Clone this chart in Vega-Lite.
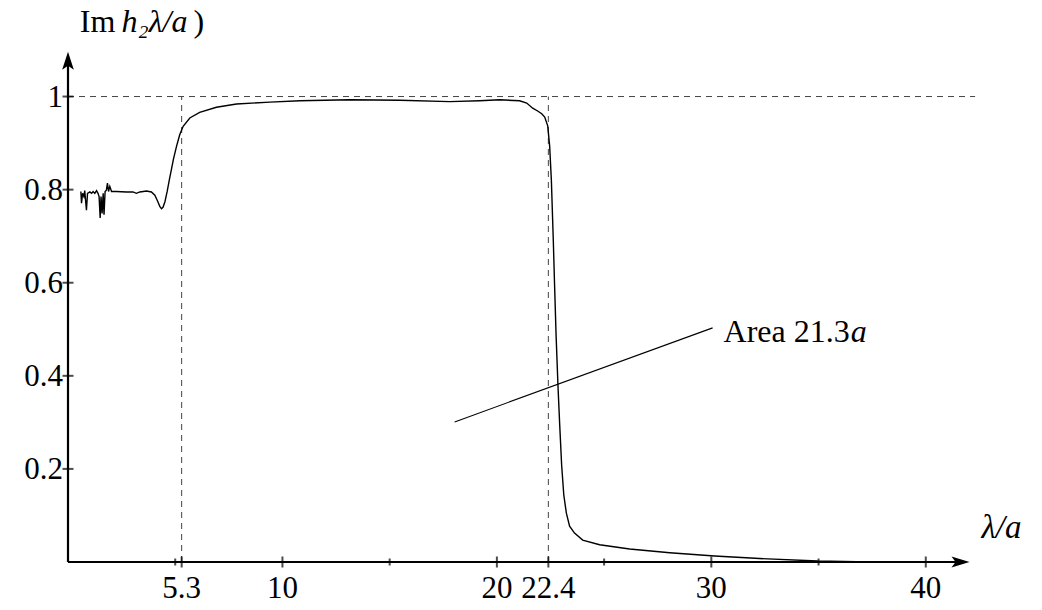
{
  "$schema": "https://vega.github.io/schema/vega-lite/v6.json",
  "width": 965,
  "height": 512,
  "autosize": {"type": "none"},
  "padding": {"left": 68, "top": 50, "right": 9, "bottom": 48},
  "background": "white",
  "config": {"view": {"stroke": null}},
  "datasets": {
    "curve": [
      {"x": 0.60, "y": 0.796}, {"x": 0.63, "y": 0.771}, {"x": 0.68, "y": 0.792}, {"x": 0.74, "y": 0.785},
      {"x": 0.78, "y": 0.798}, {"x": 0.86, "y": 0.756}, {"x": 0.91, "y": 0.792}, {"x": 1.02, "y": 0.795},
      {"x": 1.10, "y": 0.792}, {"x": 1.17, "y": 0.796}, {"x": 1.25, "y": 0.792}, {"x": 1.33, "y": 0.798},
      {"x": 1.40, "y": 0.792}, {"x": 1.45, "y": 0.785}, {"x": 1.50, "y": 0.739}, {"x": 1.54, "y": 0.785},
      {"x": 1.59, "y": 0.749}, {"x": 1.64, "y": 0.792}, {"x": 1.68, "y": 0.746}, {"x": 1.73, "y": 0.796},
      {"x": 1.79, "y": 0.799}, {"x": 1.84, "y": 0.814}, {"x": 1.89, "y": 0.796}, {"x": 1.95, "y": 0.807},
      {"x": 2.03, "y": 0.796}, {"x": 2.10, "y": 0.796}, {"x": 2.26, "y": 0.796}, {"x": 2.73, "y": 0.795},
      {"x": 3.03, "y": 0.795}, {"x": 3.19, "y": 0.792}, {"x": 3.35, "y": 0.795}, {"x": 3.66, "y": 0.797},
      {"x": 3.89, "y": 0.795}, {"x": 4.05, "y": 0.788}, {"x": 4.17, "y": 0.776}, {"x": 4.28, "y": 0.764},
      {"x": 4.36, "y": 0.759}, {"x": 4.43, "y": 0.762}, {"x": 4.52, "y": 0.774}, {"x": 4.62, "y": 0.795},
      {"x": 4.73, "y": 0.822}, {"x": 4.83, "y": 0.845}, {"x": 4.92, "y": 0.866},
      {"x": 5.06, "y": 0.893}, {"x": 5.21, "y": 0.918}, {"x": 5.37, "y": 0.936}, {"x": 5.68, "y": 0.954},
      {"x": 6.14, "y": 0.966}, {"x": 6.92, "y": 0.977}, {"x": 7.86, "y": 0.984}, {"x": 9.41, "y": 0.988},
      {"x": 10.81, "y": 0.991}, {"x": 13.14, "y": 0.993}, {"x": 15.47, "y": 0.992}, {"x": 17.8, "y": 0.989},
      {"x": 19.2, "y": 0.991}, {"x": 20.13, "y": 0.993}, {"x": 21.06, "y": 0.991}, {"x": 21.39, "y": 0.986},
      {"x": 21.67, "y": 0.975}, {"x": 21.9, "y": 0.969}, {"x": 22.09, "y": 0.963}, {"x": 22.23, "y": 0.956},
      {"x": 22.37, "y": 0.937}, {"x": 22.46, "y": 0.894}, {"x": 22.54, "y": 0.821}, {"x": 22.63, "y": 0.692},
      {"x": 22.69, "y": 0.595}, {"x": 22.76, "y": 0.488}, {"x": 22.85, "y": 0.377}, {"x": 22.93, "y": 0.294},
      {"x": 23.02, "y": 0.208}, {"x": 23.12, "y": 0.144}, {"x": 23.24, "y": 0.105}, {"x": 23.39, "y": 0.077},
      {"x": 23.62, "y": 0.062}, {"x": 24.0, "y": 0.047}, {"x": 24.79, "y": 0.037}, {"x": 26.19, "y": 0.028},
      {"x": 28.06, "y": 0.020}, {"x": 30.15, "y": 0.013}, {"x": 32.25, "y": 0.0075}, {"x": 34.96, "y": 0.002},
      {"x": 37.38, "y": 0.0}, {"x": 40.0, "y": 0.0}
    ],
    "dashed": [
      {"x": 0, "y": 1, "x2": 42.3, "y2": 1},
      {"x": 5.3, "y": 0, "x2": 5.3, "y2": 1},
      {"x": 22.4, "y": 0, "x2": 22.4, "y2": 1}
    ],
    "axes": [
      {"x": 0, "y": 0, "x2": 41.6, "y2": 0},
      {"x": 0, "y": 0, "x2": 0, "y2": 1.077}
    ],
    "pointer": [
      {"x": 18.03, "y": 0.301, "x2": 30.06, "y2": 0.503}
    ],
    "xMajor": [
      {"x": 5.3, "y": 0, "label": "5.3"}, {"x": 10, "y": 0, "label": "10"}, {"x": 20, "y": 0, "label": "20"},
      {"x": 22.4, "y": 0, "label": "22.4"}, {"x": 30, "y": 0, "label": "30"}, {"x": 40, "y": 0, "label": "40"}
    ],
    "xMinor": [
      {"x": 5, "y": 0}, {"x": 15, "y": 0}, {"x": 25, "y": 0}, {"x": 35, "y": 0}
    ],
    "yMajor": [
      {"x": 0, "y": 0.2, "label": "0.2"}, {"x": 0, "y": 0.4, "label": "0.4"}, {"x": 0, "y": 0.6, "label": "0.6"},
      {"x": 0, "y": 0.8, "label": "0.8"}, {"x": 0, "y": 1, "label": "1"}
    ],
    "xArrow": [{"x": 41.62, "y": 0}],
    "yArrow": [{"x": 0, "y": 1.077}],
    "titleUpright": [{"x": 0.55, "y": 1.139, "label": "Im"}],
    "titleItalic": [{"x": 2.5, "y": 1.139, "label": "h₂λ/a"}],
    "titleParen": [{"x": 5.85, "y": 1.139, "label": ")"}],
    "xTitle": [{"x": 42.6, "y": 0.052, "label": "λ/a"}],
    "areaText": [{"x": 36.5, "y": 0.473, "label": "Area 21.3"}],
    "areaItalic": [{"x": 36.5, "y": 0.473, "label": "a"}]
  },
  "layer": [
    {
      "data": {"name": "dashed"},
      "mark": {"type": "rule", "strokeDash": [6, 5], "strokeWidth": 1, "color": "#444444"},
      "encoding": {
        "x": {"field": "x", "type": "quantitative", "scale": {"domain": [0, 45]}, "axis": null},
        "y": {"field": "y", "type": "quantitative", "scale": {"domain": [0, 1.1]}, "axis": null},
        "x2": {"field": "x2"},
        "y2": {"field": "y2"}
      }
    },
    {
      "data": {"name": "curve"},
      "mark": {"type": "line", "color": "black", "strokeWidth": 1.4, "clip": false},
      "encoding": {
        "x": {"field": "x", "type": "quantitative", "scale": {"domain": [0, 45]}, "axis": null},
        "y": {"field": "y", "type": "quantitative", "scale": {"domain": [0, 1.1]}, "axis": null}
      }
    },
    {
      "data": {"name": "pointer"},
      "mark": {"type": "rule", "color": "black", "strokeWidth": 1.1},
      "encoding": {
        "x": {"field": "x", "type": "quantitative", "scale": {"domain": [0, 45]}, "axis": null},
        "y": {"field": "y", "type": "quantitative", "scale": {"domain": [0, 1.1]}, "axis": null},
        "x2": {"field": "x2"},
        "y2": {"field": "y2"}
      }
    },
    {
      "data": {"name": "axes"},
      "mark": {"type": "rule", "color": "black", "strokeWidth": 2.2},
      "encoding": {
        "x": {"field": "x", "type": "quantitative", "scale": {"domain": [0, 45]}, "axis": null},
        "y": {"field": "y", "type": "quantitative", "scale": {"domain": [0, 1.1]}, "axis": null},
        "x2": {"field": "x2"},
        "y2": {"field": "y2"}
      }
    },
    {
      "data": {"name": "xMajor"},
      "mark": {"type": "tick", "orient": "vertical", "size": 11, "thickness": 2, "color": "black"},
      "encoding": {
        "x": {"field": "x", "type": "quantitative", "scale": {"domain": [0, 45]}, "axis": null},
        "y": {"field": "y", "type": "quantitative", "scale": {"domain": [0, 1.1]}, "axis": null}
      }
    },
    {
      "data": {"name": "xMinor"},
      "mark": {"type": "tick", "orient": "vertical", "size": 7, "thickness": 2, "color": "black"},
      "encoding": {
        "x": {"field": "x", "type": "quantitative", "scale": {"domain": [0, 45]}, "axis": null},
        "y": {"field": "y", "type": "quantitative", "scale": {"domain": [0, 1.1]}, "axis": null}
      }
    },
    {
      "data": {"name": "yMajor"},
      "mark": {"type": "tick", "orient": "horizontal", "size": 11, "thickness": 2, "color": "black"},
      "encoding": {
        "x": {"field": "x", "type": "quantitative", "scale": {"domain": [0, 45]}, "axis": null},
        "y": {"field": "y", "type": "quantitative", "scale": {"domain": [0, 1.1]}, "axis": null}
      }
    },
    {
      "data": {"name": "xMajor"},
      "mark": {"type": "text", "font": "Liberation Serif", "fontSize": 31, "align": "center", "baseline": "middle", "dy": 27, "color": "black"},
      "encoding": {
        "x": {"field": "x", "type": "quantitative", "scale": {"domain": [0, 45]}, "axis": null},
        "y": {"field": "y", "type": "quantitative", "scale": {"domain": [0, 1.1]}, "axis": null},
        "text": {"field": "label"}
      }
    },
    {
      "data": {"name": "yMajor"},
      "mark": {"type": "text", "font": "Liberation Serif", "fontSize": 31, "align": "right", "baseline": "middle", "dx": -5, "dy": 1, "color": "black"},
      "encoding": {
        "x": {"field": "x", "type": "quantitative", "scale": {"domain": [0, 45]}, "axis": null},
        "y": {"field": "y", "type": "quantitative", "scale": {"domain": [0, 1.1]}, "axis": null},
        "text": {"field": "label"}
      }
    },
    {
      "data": {"name": "xArrow"},
      "mark": {"type": "point", "shape": "M1,0L-1,-0.6L-0.55,0L-1,0.6Z", "size": 324, "filled": true, "color": "black", "opacity": 1, "strokeWidth": 0},
      "encoding": {
        "x": {"field": "x", "type": "quantitative", "scale": {"domain": [0, 45]}, "axis": null},
        "y": {"field": "y", "type": "quantitative", "scale": {"domain": [0, 1.1]}, "axis": null}
      }
    },
    {
      "data": {"name": "yArrow"},
      "mark": {"type": "point", "shape": "M0,-1L0.65,1L0,0.55L-0.65,1Z", "size": 324, "filled": true, "color": "black", "opacity": 1, "strokeWidth": 0},
      "encoding": {
        "x": {"field": "x", "type": "quantitative", "scale": {"domain": [0, 45]}, "axis": null},
        "y": {"field": "y", "type": "quantitative", "scale": {"domain": [0, 1.1]}, "axis": null}
      }
    },
    {
      "data": {"name": "titleUpright"},
      "mark": {"type": "text", "font": "Liberation Serif", "fontSize": 32, "align": "left", "baseline": "alphabetic", "color": "black"},
      "encoding": {
        "x": {"field": "x", "type": "quantitative", "scale": {"domain": [0, 45]}, "axis": null},
        "y": {"field": "y", "type": "quantitative", "scale": {"domain": [0, 1.1]}, "axis": null},
        "text": {"field": "label"}
      }
    },
    {
      "data": {"name": "titleItalic"},
      "mark": {"type": "text", "font": "Liberation Serif", "fontSize": 32, "fontStyle": "italic", "align": "left", "baseline": "alphabetic", "color": "black"},
      "encoding": {
        "x": {"field": "x", "type": "quantitative", "scale": {"domain": [0, 45]}, "axis": null},
        "y": {"field": "y", "type": "quantitative", "scale": {"domain": [0, 1.1]}, "axis": null},
        "text": {"field": "label"}
      }
    },
    {
      "data": {"name": "titleParen"},
      "mark": {"type": "text", "font": "Liberation Serif", "fontSize": 32, "align": "left", "baseline": "alphabetic", "color": "black"},
      "encoding": {
        "x": {"field": "x", "type": "quantitative", "scale": {"domain": [0, 45]}, "axis": null},
        "y": {"field": "y", "type": "quantitative", "scale": {"domain": [0, 1.1]}, "axis": null},
        "text": {"field": "label"}
      }
    },
    {
      "data": {"name": "xTitle"},
      "mark": {"type": "text", "font": "Liberation Serif", "fontSize": 33, "fontStyle": "italic", "align": "left", "baseline": "alphabetic", "color": "black"},
      "encoding": {
        "x": {"field": "x", "type": "quantitative", "scale": {"domain": [0, 45]}, "axis": null},
        "y": {"field": "y", "type": "quantitative", "scale": {"domain": [0, 1.1]}, "axis": null},
        "text": {"field": "label"}
      }
    },
    {
      "data": {"name": "areaText"},
      "mark": {"type": "text", "font": "Liberation Serif", "fontSize": 32, "align": "right", "baseline": "alphabetic", "dx": -1, "color": "black"},
      "encoding": {
        "x": {"field": "x", "type": "quantitative", "scale": {"domain": [0, 45]}, "axis": null},
        "y": {"field": "y", "type": "quantitative", "scale": {"domain": [0, 1.1]}, "axis": null},
        "text": {"field": "label"}
      }
    },
    {
      "data": {"name": "areaItalic"},
      "mark": {"type": "text", "font": "Liberation Serif", "fontSize": 32, "fontStyle": "italic", "align": "left", "baseline": "alphabetic", "color": "black"},
      "encoding": {
        "x": {"field": "x", "type": "quantitative", "scale": {"domain": [0, 45]}, "axis": null},
        "y": {"field": "y", "type": "quantitative", "scale": {"domain": [0, 1.1]}, "axis": null},
        "text": {"field": "label"}
      }
    }
  ]
}
